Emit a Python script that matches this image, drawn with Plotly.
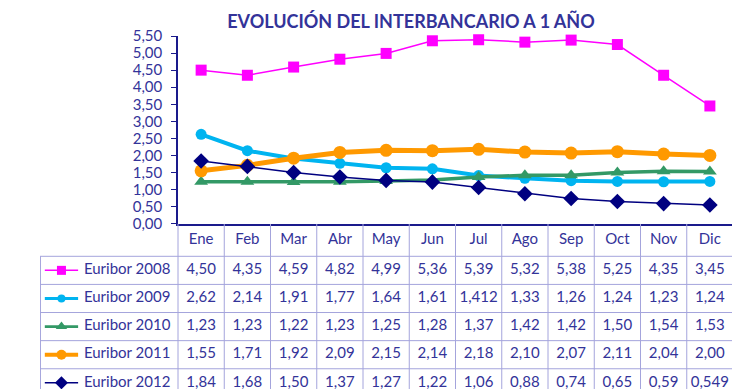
import plotly.graph_objects as go

months = ["Ene", "Feb", "Mar", "Abr", "May", "Jun", "Jul", "Ago", "Sep", "Oct", "Nov", "Dic"]
series_names = ["Euribor 2008", "Euribor 2009", "Euribor 2010", "Euribor 2011", "Euribor 2012"]
euribor_2008 = [4.50, 4.35, 4.59, 4.82, 4.99, 5.36, 5.39, 5.32, 5.38, 5.25, 4.35, 3.45]
euribor_2009 = [2.62, 2.14, 1.91, 1.77, 1.64, 1.61, 1.412, 1.33, 1.26, 1.24, 1.23, 1.24]
euribor_2010 = [1.23, 1.23, 1.22, 1.23, 1.25, 1.28, 1.37, 1.42, 1.42, 1.50, 1.54, 1.53]
euribor_2011 = [1.55, 1.71, 1.92, 2.09, 2.15, 2.14, 2.18, 2.10, 2.07, 2.11, 2.04, 2.00]
euribor_2012 = [1.84, 1.68, 1.50, 1.37, 1.27, 1.22, 1.06, 0.88, 0.74, 0.65, 0.59, 0.549]
y_ticks = [0.0, 0.5, 1.0, 1.5, 2.0, 2.5, 3.0, 3.5, 4.0, 4.5, 5.0, 5.5]
title_text = "EVOLUCIÓN DEL INTERBANCARIO A 1 AÑO"

all_series = [euribor_2008, euribor_2009, euribor_2010, euribor_2011, euribor_2012]
styles = [
    dict(color="#FF00FF", width=1.5, symbol="square", size=11, lsize=9),
    dict(color="#00B4F0", width=4, symbol="circle", size=11, lsize=8),
    dict(color="#339966", width=3.5, symbol="triangle-up", size=12, lsize=10),
    dict(color="#FF9900", width=5, symbol="circle", size=13, lsize=10),
    dict(color="#000080", width=1.5, symbol="diamond", size=12, lsize=10),
]

TXT = "#333399"
FONT = "Lato"
GRID = "#A4A4DC"
FS = 15


def fmt(v):
    s = f"{v:.3f}".rstrip("0")
    ip, dp = s.split(".")
    dp = dp.ljust(2, "0")
    return ip + "," + dp


xs = list(range(len(months)))
fig = go.Figure()

# main chart lines
for name, vals, st in zip(series_names, all_series, styles):
    fig.add_trace(go.Scatter(
        x=xs, y=vals, mode="lines+markers", name=name,
        line=dict(color=st["color"], width=st["width"]),
        marker=dict(symbol=st["symbol"], size=st["size"], color=st["color"], line=dict(width=0)),
        xaxis="x", yaxis="y", showlegend=False, cliponaxis=False,
    ))

# table header
fig.add_trace(go.Scatter(
    x=xs, y=[-1.079] * len(months), mode="text", text=months,
    textfont=dict(family=FONT, size=FS, color=TXT),
    xaxis="x2", yaxis="y2", showlegend=False, hoverinfo="skip",
))

# table rows
for i, (name, vals, st) in enumerate(zip(series_names, all_series, styles)):
    fig.add_trace(go.Scatter(
        x=xs, y=[i] * len(vals), mode="text", text=[fmt(v) for v in vals],
        textfont=dict(family=FONT, size=FS, color=TXT),
        xaxis="x2", yaxis="y2", showlegend=False, hoverinfo="skip",
    ))
    # legend key
    fig.add_trace(go.Scatter(
        x=[-3.38, -3.02, -2.66], y=[i, i, i], mode="lines",
        line=dict(color=st["color"], width=max(st["width"] * 0.8, 1.5)),
        xaxis="x2", yaxis="y2", showlegend=False, hoverinfo="skip",
    ))
    fig.add_trace(go.Scatter(
        x=[-3.02], y=[i], mode="markers",
        marker=dict(symbol=st["symbol"], size=st["lsize"], color=st["color"], line=dict(width=0)),
        xaxis="x2", yaxis="y2", showlegend=False, hoverinfo="skip",
    ))
    fig.add_trace(go.Scatter(
        x=[-1.60], y=[i], mode="text", text=[name], textposition="middle center",
        textfont=dict(family=FONT, size=FS, color=TXT),
        xaxis="x2", yaxis="y2", showlegend=False, hoverinfo="skip",
    ))

shapes = []
X0, X1 = -3.484, 11.5
Y0, Y1 = -1.658, 4.22
for yb in [-0.5, 0.5, 1.5, 2.5, 3.5]:
    shapes.append(dict(type="line", xref="x2", yref="y2", x0=X0, x1=X1, y0=yb, y1=yb,
                       line=dict(color=GRID, width=1)))
for k in range(13):
    xb = -0.5 + k
    shapes.append(dict(type="line", xref="x2", yref="y2", x0=xb, x1=xb, y0=Y0, y1=Y1,
                       line=dict(color=GRID, width=1)))
shapes.append(dict(type="line", xref="x2", yref="y2", x0=X0 + 0.01, x1=X0 + 0.01, y0=-0.5, y1=Y1,
                   line=dict(color=GRID, width=1)))

main_dom0 = (170 - 32) / 693
split = 169 / 361

fig.update_layout(
    width=740, height=389,
    margin=dict(l=32, r=15, t=28, b=0),
    paper_bgcolor="white", plot_bgcolor="rgba(0,0,0,0)",
    font=dict(family=FONT, color=TXT),
    title=dict(text=title_text, x=403 / 740, xanchor="center", y=1 - 14 / 389, yanchor="middle",
               font=dict(family=FONT, size=18, color=TXT, weight="bold")),
    xaxis=dict(domain=[main_dom0, 1], range=[-0.5, 11.5], showgrid=False, zeroline=False,
               showline=True, linecolor="#1A1A8C", linewidth=1.5, tickvals=[], anchor="y"),
    yaxis=dict(domain=[split, 1], range=[0, 5.5], showgrid=False, zeroline=False,
               showline=True, linecolor="#1A1A8C", linewidth=1.5,
               tickvals=y_ticks, ticktext=[f"{v:.2f}".replace(".", ",") for v in y_ticks],
               ticks="outside", ticklen=5, tickcolor="#1A1A8C", ticklabelstandoff=6,
               tickfont=dict(family=FONT, size=FS, color=TXT), anchor="x"),
    xaxis2=dict(domain=[0, 1], range=[X0, X1], visible=False, anchor="y2"),
    yaxis2=dict(domain=[0, split], range=[Y1, Y0], visible=False, anchor="x2"),
    shapes=shapes,
)

fig.write_html("out.html")
